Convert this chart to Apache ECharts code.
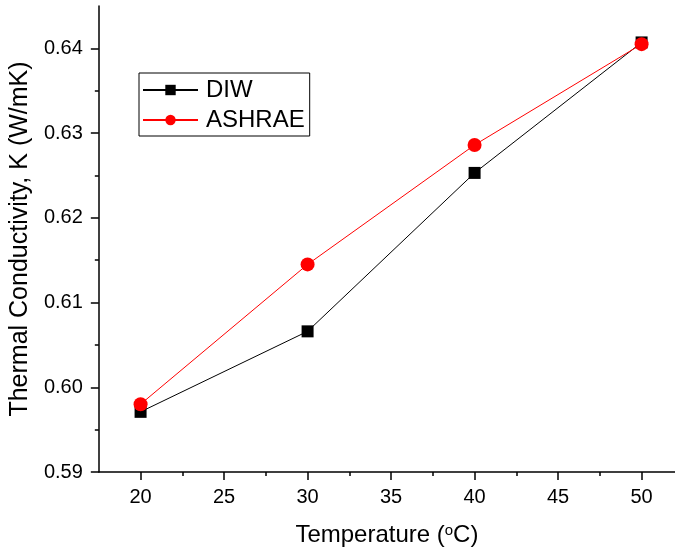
<!DOCTYPE html>
<html><head><meta charset="utf-8">
<script src="https://cdn.jsdelivr.net/npm/echarts@6/dist/echarts.min.js"></script>
<style>html,body{margin:0;padding:0;background:#fff}#c{width:675px;height:554px}</style>
</head><body><div id="c"></div>
<script>
const temps = [20, 30, 40, 50];
const diw = [0.5971, 0.6066, 0.6253, 0.6407];
const ashrae = [0.5980, 0.6145, 0.6286, 0.6405];
const xMajor = [20, 25, 30, 35, 40, 45, 50];
const xMinor = [22.5, 27.5, 32.5, 37.5, 42.5, 47.5];
const yMajor = [0.59, 0.60, 0.61, 0.62, 0.63, 0.64];
const yMinor = [0.595, 0.605, 0.615, 0.625, 0.635];

const font = 'Liberation Sans, Arial, sans-serif';
const chart = echarts.init(document.getElementById('c'), null, {renderer: 'canvas'});
const axisCommon = {
  type: 'value', splitLine: {show: false},
  axisLine: {show: true, lineStyle: {color: '#000', width: 1.5}},
};
chart.setOption({
  animation: false,
  textStyle: {fontFamily: font},
  grid: {left: 98, top: 6, right: 0, bottom: 82, containLabel: false},
  legend: {
    orient: 'vertical', left: 139, top: 73,
    data: ['DIW', 'ASHRAE'],
    borderColor: '#000', borderWidth: 1, borderRadius: 0,
    padding: [5, 5, 4, 3], itemGap: 6, itemWidth: 55, itemHeight: 13,
    textStyle: {fontSize: 24, color: '#000', fontFamily: font, padding: [0, 0, 0, 3]}
  },
  xAxis: [
    Object.assign({}, axisCommon, {
      min: 17.5, max: 52,
      axisTick: {show: true, inside: false, length: 8, customValues: xMajor, lineStyle: {color: '#000', width: 1.5}},
      axisLabel: {customValues: xMajor, fontSize: 20, color: '#000', margin: 15, fontFamily: font},
      name: '{a|Temperature (}{s|o}{a|C)}', nameLocation: 'middle', nameGap: 51,
      nameTextStyle: {rich: {a: {fontSize: 24, color: '#000', fontFamily: font}, s: {fontSize: 15, color: '#000', fontFamily: font, verticalAlign: 'top', padding: [0, 0, 9, 0]}}}
    }),
    Object.assign({}, axisCommon, {
      min: 17.5, max: 52, position: 'bottom', axisLine: {show: false},
      axisTick: {show: true, length: 4, customValues: xMinor, lineStyle: {color: '#000', width: 1.5}},
      axisLabel: {show: false}
    })
  ],
  yAxis: [
    Object.assign({}, axisCommon, {
      min: 0.59, max: 0.645,
      axisTick: {show: true, length: 8, customValues: yMajor, lineStyle: {color: '#000', width: 1.5}},
      axisLabel: {customValues: yMajor, fontSize: 20, color: '#000', margin: 16, fontFamily: font,
        formatter: v => v.toFixed(2)},
      name: 'Thermal Conductivity, K (W/mK)', nameLocation: 'middle', nameGap: 56,
      nameTextStyle: {fontSize: 25, color: '#000', fontFamily: font}
    }),
    Object.assign({}, axisCommon, {
      min: 0.59, max: 0.645, position: 'left', axisLine: {show: false},
      axisTick: {show: true, length: 4, customValues: yMinor, lineStyle: {color: '#000', width: 1.5}},
      axisLabel: {show: false}
    })
  ],
  series: [
    {name: 'DIW', type: 'line', data: temps.map((t, i) => [t, diw[i]]),
      symbol: 'rect', symbolSize: 12, itemStyle: {color: '#000'},
      lineStyle: {color: '#000', width: 1}},
    {name: 'ASHRAE', type: 'line', data: temps.map((t, i) => [t, ashrae[i]]),
      symbol: 'circle', symbolSize: 14, itemStyle: {color: '#ff0000'},
      lineStyle: {color: '#ff0000', width: 1}}
  ]
});
</script></body></html>
